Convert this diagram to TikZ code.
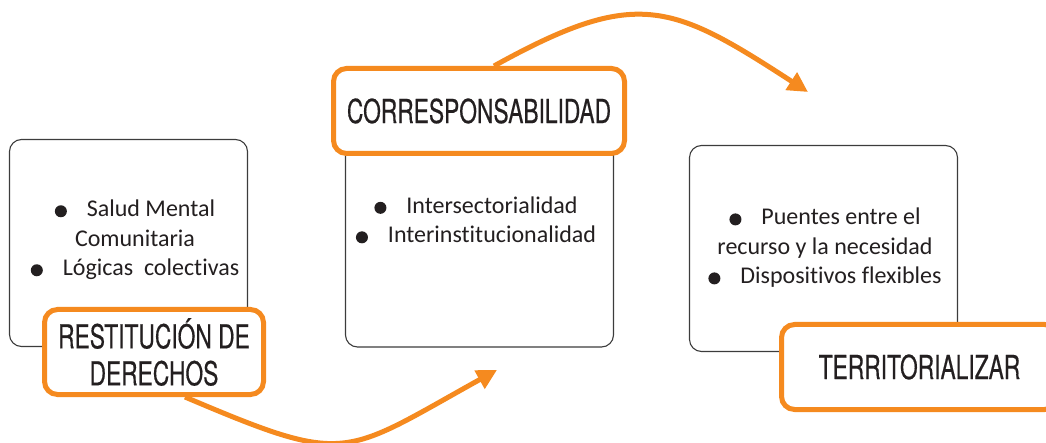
\documentclass[tikz,border=0pt]{standalone}
\usepackage{fontspec}
\setmainfont{Carlito}[Ligatures={NoCommon,NoContextual}]
\newfontfamily\labfont[FakeStretch=0.69,FakeBold=0.4]{TeX Gyre Heros}
\usetikzlibrary{arrows.meta,positioning}
\definecolor{ink}{HTML}{231F20}
\definecolor{frame}{HTML}{3C3C3C}
\definecolor{accent}{HTML}{F58A1F}
\tikzstyle{card} = [draw=frame, line width=1.1pt, rounded corners=12pt, fill=white]
\tikzstyle{tag} = [draw=accent, line width=5pt, rounded corners=13pt, fill=white, minimum height=85pt, text=ink, font=\labfont\fontsize{33}{37}\selectfont, align=center, inner sep=0pt]
\tikzstyle{items} = [text=ink, font=\fontsize{24}{29.5}\selectfont, align=center, inner sep=0pt]
\tikzstyle{flow} = [draw=accent, line width=5pt, -{Triangle[length=20pt,width=20pt]}]
\newcommand{\bul}{\tikz[baseline={(0,-5.5pt)}]\fill[ink] (0,0) circle (6pt);}

\begin{document}
\begin{tikzpicture}[x=1pt,y=1pt]
	\useasboundingbox (0,0) rectangle (1046,-443);
	\node [card, minimum width=238pt, minimum height=207pt] (restbox) at (128.5,-243) {};
	\node [card, minimum width=268pt, minimum height=254pt] (correbox) at (479.5,-220) {};
	\node [card, minimum width=268pt, minimum height=206pt] (terrbox) at (823.5,-248.5) {};

	\node [items] (restlist) at (135,-240) {\bul\hspace{20pt}Salud Mental\\Comunitaria\\\bul\hspace{20pt}Lógicas\ \ colectivas};
	\node [items] (correlist) at (476,-220) {\bul\hspace{20pt}Intersectorialidad\\\bul\hspace{20pt}Interinstitucionalidad};
	\node [items] (terrlist) at (825,-248) {\bul\hspace{20pt}Puentes entre el\\recurso y la necesidad\\\bul\hspace{20pt}Dispositivos flexibles};

	\node [tag, minimum width=219pt] (rest) at (154,-352) {RESTITUCIÓN DE\\DERECHOS};
	\node [tag, minimum width=291pt] (corre) at (479,-111) {CORRESPONSABILIDAD};
	\node [tag, minimum width=276pt] (terr) at (919.5,-367) {TERRITORIALIZAR};

	\coordinate (tip1) at (497,-370);
	\coordinate (tip2) at (808,-92);
	\draw [flow] ([xshift=31pt]rest.south) .. controls +(-23:178) and +(209:178) .. (tip1);
	\draw [flow] ([xshift=15pt]corre.north) .. controls +(29:163) and +(147:163) .. (tip2);
\end{tikzpicture}
\end{document}
